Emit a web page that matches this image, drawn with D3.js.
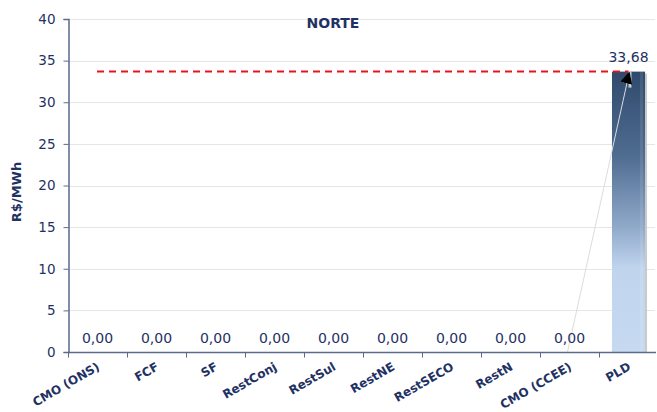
<!DOCTYPE html>
<html>
<head>
<meta charset="utf-8">
<script src="https://cdn.jsdelivr.net/npm/d3@7"></script>
<style>
  html, body { margin: 0; padding: 0; background: #fff; }
  svg { display: block; }
</style>
</head>
<body>
<svg id="chart" width="657" height="412"></svg>
<script>
// Componentes de preço - submercado Norte
const categories = ["CMO (ONS)", "FCF", "SF", "RestConj", "RestSul", "RestNE", "RestSECO", "RestN", "CMO (CCEE)", "PLD"];
const values = [0, 0, 0, 0, 0, 0, 0, 0, 0, 33.68];
const yTicks = [0, 5, 10, 15, 20, 25, 30, 35, 40];
const refValue = 33.68;
const title = "NORTE";
const yTitle = "R$/MWh";

const fmt = v => v.toFixed(2).replace(".", ",");
const navy = "#1f3264";
const axisColor = "#5a6a8c";
const font = "'DejaVu Sans', Verdana, sans-serif";

const svg = d3.select("#chart");
const left = 68;

const x = d3.scaleBand().domain(categories).range([left, 658]).paddingInner(0.44).paddingOuter(0.22);
const xEdge = d3.scaleBand().domain(categories).range([left, 658]);
const y = d3.scaleLinear().domain([0, 40]).range([352, 19]);

const defs = svg.append("defs");
const grad = defs.append("linearGradient").attr("id", "barFill")
  .attr("x1", 0).attr("y1", 0).attr("x2", 0).attr("y2", 1);
grad.append("stop").attr("offset", "0%").attr("stop-color", "#2f4a6c");
grad.append("stop").attr("offset", "30%").attr("stop-color", "#4f6c91");
grad.append("stop").attr("offset", "55%").attr("stop-color", "#8ea8c8");
grad.append("stop").attr("offset", "70%").attr("stop-color", "#c0d4ee");
grad.append("stop").attr("offset", "100%").attr("stop-color", "#c6d9f1");

defs.append("marker").attr("id", "arrowHead")
  .attr("viewBox", "0 0 10 10").attr("refX", 10).attr("refY", 5)
  .attr("markerWidth", 12).attr("markerHeight", 12).attr("markerUnits", "userSpaceOnUse")
  .attr("orient", "auto")
  .append("path").attr("d", "M0,0 L10,5 L0,10 Z").attr("fill", "#000");

// grade horizontal
svg.append("g").selectAll("line").data(yTicks.filter(t => t > 0)).join("line")
  .attr("x1", left).attr("x2", 655)
  .attr("y1", d => Math.round(y(d)) + 0.5).attr("y2", d => Math.round(y(d)) + 0.5)
  .attr("stroke", "#e6e6e6").attr("stroke-width", 1);

// título
svg.append("text").attr("x", 333).attr("y", 28).attr("text-anchor", "middle")
  .attr("font-family", font).attr("font-weight", "bold").attr("font-size", 14)
  .attr("fill", navy).text(title);

// barras (sombra + preenchimento)
const bars = svg.append("g");
bars.selectAll("rect.shadow").data(categories).join("rect").attr("class", "shadow")
  .attr("x", d => x(d) + 2).attr("width", x.bandwidth())
  .attr("y", (d, i) => y(values[i]) + 2).attr("height", (d, i) => Math.max(0, y(0) - y(values[i]) - 2))
  .attr("fill", "#c4c4c4").attr("opacity", (d, i) => values[i] > 0 ? 0.9 : 0);
bars.selectAll("rect.bar").data(categories).join("rect").attr("class", "bar")
  .attr("x", d => x(d)).attr("width", x.bandwidth())
  .attr("y", (d, i) => y(values[i])).attr("height", (d, i) => y(0) - y(values[i]))
  .attr("fill", "url(#barFill)");
bars.selectAll("rect.hl").data(categories).join("rect").attr("class", "hl")
  .attr("x", d => x(d) + x.bandwidth() - 5).attr("width", 3)
  .attr("y", (d, i) => y(values[i])).attr("height", (d, i) => y(0) - y(values[i]))
  .attr("fill", "#ffffff").attr("opacity", 0.1);

// linha de referência do PLD
svg.append("line")
  .attr("x1", 97).attr("x2", x("PLD") + x.bandwidth() / 2)
  .attr("y1", y(refValue)).attr("y2", y(refValue))
  .attr("stroke", "#e8141b").attr("stroke-width", 2).attr("stroke-dasharray", "7,5");

// seta indicadora
const ax0 = xEdge("CMO (CCEE)") + xEdge.bandwidth() * 0.5 - 2;
const ax1 = x("PLD") + x.bandwidth() / 2 + 1;
svg.append("line").attr("x1", ax0).attr("y1", y(0)).attr("x2", ax1).attr("y2", y(refValue))
  .attr("stroke", "#dcdcdc").attr("stroke-width", 1);
svg.append("rect").attr("x", ax1 - 1).attr("y", y(refValue)).attr("width", 3).attr("height", 16)
  .attr("fill", "#e8e8e8").attr("opacity", 0.8);
svg.append("line").attr("x1", ax1 - 6).attr("y1", y(refValue) + 22).attr("x2", ax1).attr("y2", y(refValue))
  .attr("stroke", "#000").attr("stroke-width", 0).attr("marker-end", "url(#arrowHead)");

// rótulos de valor
svg.append("g").selectAll("text").data(categories).join("text")
  .attr("x", d => x(d) + x.bandwidth() / 2)
  .attr("y", (d, i) => values[i] > 0 ? y(values[i]) - 10 : 343)
  .attr("text-anchor", "middle").attr("font-family", font).attr("font-size", 14)
  .attr("fill", navy).text((d, i) => fmt(values[i]));

// eixo Y
const yAxis = svg.append("g").attr("transform", `translate(${left + 0.5},0)`)
  .call(d3.axisLeft(y).tickValues(yTicks).tickSize(5).tickPadding(8));
yAxis.select(".domain").attr("stroke", axisColor).attr("stroke-width", 1.5);
yAxis.selectAll(".tick line").attr("stroke", axisColor);
yAxis.selectAll(".tick text").attr("font-family", font).attr("font-size", 13.5).attr("fill", navy);

// eixo X
const xa = svg.append("g").attr("transform", `translate(0,${y(0) + 0.5})`);
xa.append("line").attr("x1", left).attr("x2", 656).attr("stroke", axisColor).attr("stroke-width", 1.5);
xa.selectAll("line.tk").data(categories).join("line").attr("class", "tk")
  .attr("x1", d => Math.round(xEdge(d)) + 0.5).attr("x2", d => Math.round(xEdge(d)) + 0.5)
  .attr("y1", 0).attr("y2", 5).attr("stroke", axisColor);
xa.selectAll("text").data(categories).join("text")
  .attr("transform", d => `translate(${x(d) + x.bandwidth() / 2 + 1},13) rotate(-30)`)
  .attr("text-anchor", "end").attr("dy", "0.35em")
  .attr("font-family", font).attr("font-weight", "bold").attr("font-size", 12)
  .attr("fill", navy).text(d => d);

// título do eixo Y
svg.append("text").attr("transform", "translate(21,192) rotate(-90)")
  .attr("text-anchor", "middle").attr("font-family", font).attr("font-weight", "bold")
  .attr("font-size", 13).attr("fill", navy).text(yTitle);
</script>
</body>
</html>
